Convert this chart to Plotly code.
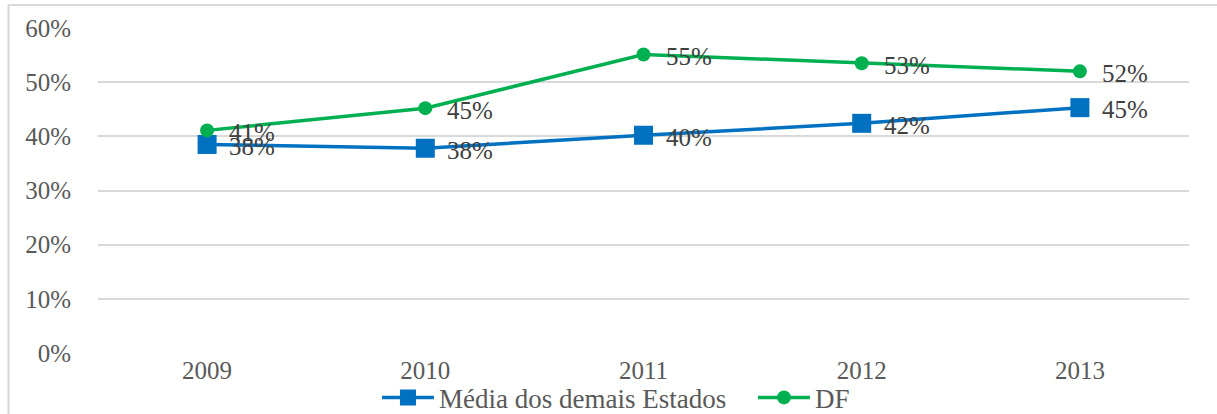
import plotly.graph_objects as go

years = ["2009", "2010", "2011", "2012", "2013"]
media_demais = [0.385, 0.378, 0.402, 0.424, 0.453]
df_vals = [0.411, 0.452, 0.551, 0.535, 0.520]
media_labels = ["38%", "38%", "40%", "42%", "45%"]
df_labels = ["41%", "45%", "55%", "53%", "52%"]
y_ticks = [0, 0.1, 0.2, 0.3, 0.4, 0.5, 0.6]

FONT = "'Liberation Serif', 'Times New Roman', serif"
LABEL_COLOR = "#404040"
AXIS_COLOR = "#595959"

fig = go.Figure()
fig.add_trace(go.Scatter(
    x=years, y=media_demais, name="Média dos demais Estados",
    mode="lines+markers",
    line=dict(color="#0070C0", width=3.5),
    marker=dict(symbol="square", size=19, color="#0070C0"),
    cliponaxis=False,
))
fig.add_trace(go.Scatter(
    x=years, y=df_vals, name="DF",
    mode="lines+markers",
    line=dict(color="#00B050", width=3.5),
    marker=dict(symbol="circle", size=14, color="#00B050"),
    cliponaxis=False,
))

annotations = []
for ys, labs in [(media_demais, media_labels), (df_vals, df_labels)]:
    for i, (yv, lab) in enumerate(zip(ys, labs)):
        annotations.append(dict(
            x=i, y=yv, xref="x", yref="y", text=lab, showarrow=False,
            xanchor="left", yanchor="middle", xshift=20, yshift=-2,
            font=dict(family=FONT, size=25, color=LABEL_COLOR),
        ))

fig.update_layout(
    width=1217, height=414,
    margin=dict(l=98, r=28, t=28, b=61, autoexpand=False),
    paper_bgcolor="white", plot_bgcolor="white",
    font=dict(family=FONT, color=AXIS_COLOR, size=25),
    showlegend=True,
    legend=dict(orientation="h", x=0.2557, xanchor="left", y=-0.138, yanchor="middle",
                font=dict(family=FONT, size=27, color=AXIS_COLOR),
                bgcolor="rgba(0,0,0,0)", itemwidth=52, tracegroupgap=0,
                entrywidth=309),
    xaxis=dict(type="category", range=[-0.5, 4.5], showgrid=False, zeroline=False,
               showline=False, ticks="", tickfont=dict(family=FONT, size=25, color=AXIS_COLOR)),
    yaxis=dict(range=[0, 0.6], tickvals=y_ticks, tickformat=".0%", showgrid=True,
               gridcolor="#D9D9D9", gridwidth=1.5, zeroline=False, showline=False,
               ticks="", ticklabelstandoff=26,
               tickfont=dict(family=FONT, size=25, color=AXIS_COLOR)),
    annotations=annotations,
    shapes=[dict(type="rect", xref="paper", yref="paper",
                 x0=-0.082, x1=1.2, y0=-0.5, y1=1.0708,
                 line=dict(color="#D9D9D9", width=2), layer="below")],
)

fig.write_html("out.html", config={"displayModeBar": False},
               post_script="document.body.style.margin='0px';")
